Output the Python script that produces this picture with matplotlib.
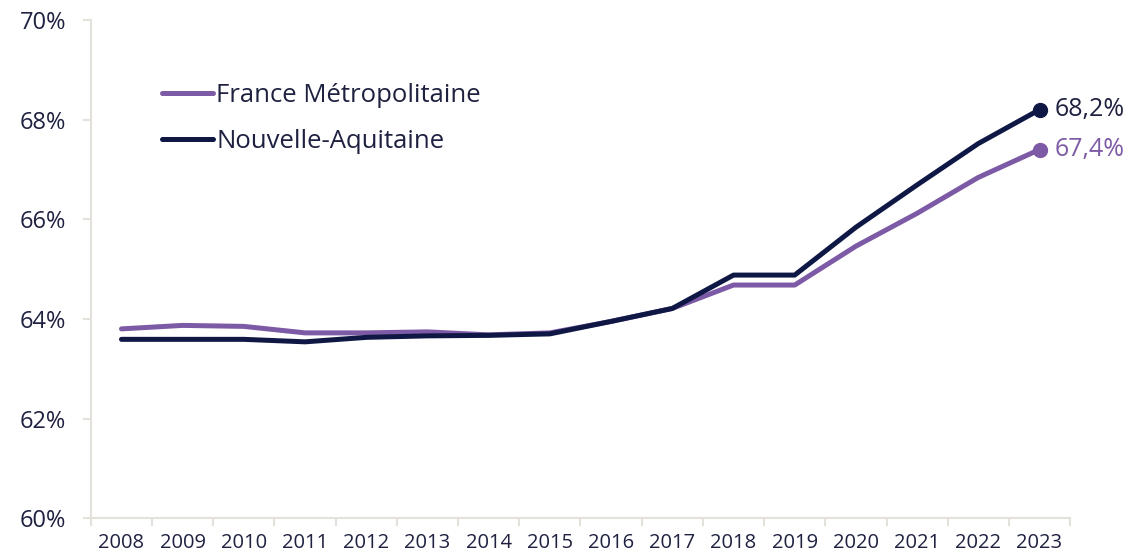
import matplotlib.pyplot as plt
import numpy as np

# values (share in %)
years = [2008, 2009, 2010, 2011, 2012, 2013, 2014, 2015,
         2016, 2017, 2018, 2019, 2020, 2021, 2022, 2023]
france = [63.80, 63.87, 63.85, 63.72, 63.72, 63.74, 63.68, 63.72,
          63.95, 64.21, 64.68, 64.68, 65.46, 66.12, 66.84, 67.40]
nouvelle_aquitaine = [63.59, 63.59, 63.59, 63.54, 63.63, 63.66, 63.67, 63.70,
                      63.95, 64.21, 64.88, 64.88, 65.84, 66.69, 67.52, 68.20]
series_names = ["France Métropolitaine", "Nouvelle-Aquitaine"]
end_labels = ["67,4%", "68,2%"]
y_ticks = [60, 62, 64, 66, 68, 70]

purple = "#7d5aa5"
navy = "#0f1845"
text_col = "#1e2140"
axis_col = "#e4e0da"

plt.rcParams['font.family'] = ['Open Sans', 'DejaVu Sans']

fig = plt.figure(figsize=(11.36, 5.56), dpi=100)
ax = fig.add_axes([0.080, 0.068, 0.862, 0.896])

x = np.arange(len(years))
ax.plot(x, france, color=purple, lw=3.6, solid_capstyle='round', solid_joinstyle='round',
        label=series_names[0], zorder=2)
ax.plot(x, nouvelle_aquitaine, color=navy, lw=3.6, solid_capstyle='round', solid_joinstyle='round',
        label=series_names[1], zorder=3)

# end markers and labels
ax.plot(x[-1], france[-1], 'o', color=purple, ms=10, zorder=4)
ax.plot(x[-1], nouvelle_aquitaine[-1], 'o', color=navy, ms=10, zorder=4)
ax.annotate(end_labels[0], (x[-1], france[-1]), xytext=(11, 0), textcoords='offset points',
            va='center', ha='left', color=purple, fontsize=18)
ax.annotate(end_labels[1], (x[-1], nouvelle_aquitaine[-1]), xytext=(11, 0), textcoords='offset points',
            va='center', ha='left', color=text_col, fontsize=18)

ax.set_xlim(-0.5, len(years) - 0.5)
ax.set_ylim(60, 70)
ax.set_yticks(y_ticks)
ax.set_yticklabels([f"{v}%" for v in y_ticks])
ax.set_xticks(x)
ax.set_xticklabels([str(y) for y in years])
ax.set_xticks(np.arange(-0.5, len(years)), minor=True)

for side in ['top', 'right']:
    ax.spines[side].set_visible(False)
for side in ['left', 'bottom']:
    ax.spines[side].set_color(axis_col)
    ax.spines[side].set_linewidth(1.5)

ax.tick_params(axis='x', which='major', length=0, pad=11, labelsize=14.5, labelcolor=text_col)
ax.tick_params(axis='x', which='minor', length=6, width=1.5, color=axis_col, direction='out')
ax.tick_params(axis='y', length=6, width=1.5, color=axis_col, pad=12, labelsize=17, labelcolor=text_col)

leg = ax.legend(loc='upper left', bbox_to_anchor=(0.062, 0.895), frameon=False,
                handlelength=2.0, handletextpad=0.12, labelspacing=0.85, fontsize=18.5,
                labelcolor=text_col, borderaxespad=0)
for line in leg.get_lines():
    line.set_linewidth(3.6)
    line.set_solid_capstyle('round')

fig.savefig("out.png", dpi=100)
